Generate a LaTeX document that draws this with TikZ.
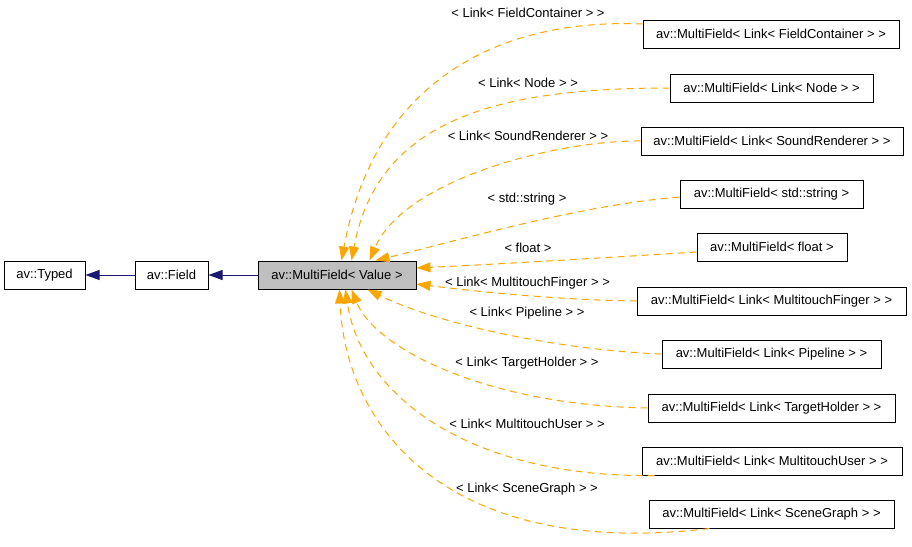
\documentclass[tikz,border=0pt]{standalone}
\usepackage{fontspec}
\setmainfont{Liberation Sans}
\usetikzlibrary{arrows.meta}
\definecolor{edgeorange}{HTML}{FFA500}
\definecolor{edgeblue}{HTML}{191970}
\definecolor{boxgray}{HTML}{BFBFBF}
\tikzset{
  cls/.style={draw=black, line width=1pt, minimum height=28pt, inner sep=0pt,
    font=\fontsize{13}{15}\selectfont},
  lbl/.style={inner sep=0pt, font=\fontsize{13}{15}\selectfont},
  inh/.style={draw=edgeblue, line width=1pt, -{Triangle[length=14pt,width=10pt,fill=edgeblue]}},
  dep/.style={draw=edgeorange, line width=1pt, dash pattern=on 7pt off 5pt,
    -{Triangle[length=14pt,width=10pt,fill=edgeorange]}},
}
\begin{document}
\begin{tikzpicture}[x=1pt,y=-1pt]
\useasboundingbox (0,0) rectangle (912,546);
% left chain
\node[cls, minimum width=81pt] (typed) at (44.5,275) {av::Typed};
\node[cls, minimum width=73pt] (field) at (171.5,275) {av::Field};
\node[cls, minimum width=158pt, fill=boxgray] (mf) at (337,275) {av::MultiField< Value >};
\draw[inh] (field) -- (typed);
\draw[inh] (mf) -- (field);
% right boxes
\node[cls, minimum width=256pt] (fc)  at (771,34)    {av::MultiField< Link< FieldContainer > >};
\node[cls, minimum width=203pt] (nd)  at (771.5,88)  {av::MultiField< Link< Node > >};
\node[cls, minimum width=262pt] (snd) at (772,141)   {av::MultiField< Link< SoundRenderer > >};
\node[cls, minimum width=183pt] (str) at (771.5,194) {av::MultiField< std::string >};
\node[cls, minimum width=150pt] (flt) at (772,247)   {av::MultiField< float >};
\node[cls, minimum width=269pt] (mtf) at (771.5,301) {av::MultiField< Link< MultitouchFinger > >};
\node[cls, minimum width=219pt] (pip) at (771.5,354) {av::MultiField< Link< Pipeline > >};
\node[cls, minimum width=247pt] (th)  at (771.5,408) {av::MultiField< Link< TargetHolder > >};
\node[cls, minimum width=260pt] (mtu) at (772,461)   {av::MultiField< Link< MultitouchUser > >};
\node[cls, minimum width=245pt] (sg)  at (771.5,514) {av::MultiField< Link< SceneGraph > >};
% labels
\node[lbl] (l1)  at (528,13)  {< Link< FieldContainer > >};
\node[lbl] (l2)  at (528,83)  {< Link< Node > >};
\node[lbl] (l3)  at (528,136) {< Link< SoundRenderer > >};
\node[lbl] (l4)  at (527,199) {< std::string >};
\node[lbl] (l5)  at (528,248) {< float >};
\node[lbl] (l6)  at (527.5,283) {< Link< MultitouchFinger > >};
\node[lbl] (l7)  at (527,313) {< Link< Pipeline > >};
\node[lbl] (l8)  at (527,363) {< Link< TargetHolder > >};
\node[lbl] (l9)  at (527,424) {< Link< MultitouchUser > >};
\node[lbl] (l10) at (527,489) {< Link< SceneGraph > >};
% dependency edges
\draw[dep] ([yshift=10pt]fc.west) .. controls (500,18) and (375,80) .. ([xshift=84pt]mf.north west);
\draw[dep] (nd.west) .. controls (500,88) and (378,118) .. ([xshift=94pt]mf.north west);
\draw[dep] (snd.west) .. controls (560,140) and (405,178) .. ([xshift=112pt]mf.north west);
\draw[dep] ([yshift=-3pt]str.west) .. controls (580,205) and (460,240) .. ([xshift=118pt]mf.north west);
\draw[dep] ([yshift=-5pt]flt.west) .. controls (600,258) and (500,264) .. ([yshift=7pt]mf.east);
\draw[dep] (mtf.west) .. controls (560,300) and (480,292) .. ([yshift=-9pt]mf.east);
\draw[dep] (pip.west) .. controls (560,350) and (440,325) .. ([xshift=110pt]mf.south west);
\draw[dep] (th.west) .. controls (485,405) and (375,348) .. ([xshift=94pt]mf.south west);
\draw[dep] ([xshift=13pt]mtu.south west) .. controls (465,478) and (360,392) .. ([xshift=88pt]mf.south west);
\draw[dep] ([xshift=61pt]sg.south west) .. controls (445,560) and (345,425) .. ([xshift=82pt]mf.south west);
\end{tikzpicture}
\end{document}
